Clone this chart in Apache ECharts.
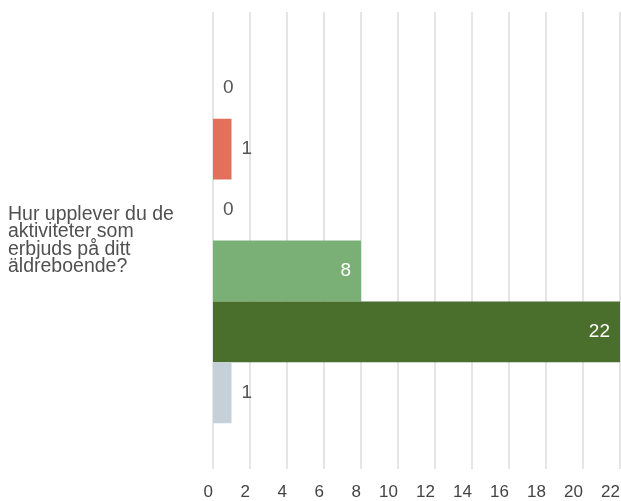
<!DOCTYPE html>
<html>
<head>
<meta charset="utf-8">
<script src="https://cdn.jsdelivr.net/npm/echarts@6/dist/echarts.min.js"></script>
<style>html,body{margin:0;padding:0;background:#fff}#c{width:621px;height:501px}</style>
</head>
<body>
<div id="c"></div>
<script>
const categories = ['Hur upplever du de aktiviteter som erbjuds på ditt äldreboende?'];
const seriesNames = ['Mycket dåligt', 'Dåligt', 'Varken bra eller dåligt', 'Bra', 'Mycket bra', 'Vet ej'];
const seriesValues = [[0], [1], [0], [8], [22], [1]];
const seriesColors = ['#b03a2e', '#e2705a', '#f0c05a', '#7aaf75', '#4a6e2c', '#c5d0d9'];
const xTicks = { min: 0, max: 22, interval: 2 };

const FONT = 'Liberation Sans, Arial, sans-serif';
const chart = echarts.init(document.getElementById('c'), null, { renderer: 'canvas' });
const series = seriesNames.map((name, i) => {
  const v = seriesValues[i][0];
  const big = v >= 5;
  return {
    name: name,
    type: 'bar',
    data: seriesValues[i],
    barGap: '0%',
    barCategoryGap: '20%',
    itemStyle: { color: seriesColors[i] },
    label: {
      show: true,
      position: big ? 'insideRight' : 'right',
      distance: 10,
      color: big ? '#ffffff' : '#555555',
      fontFamily: FONT,
      fontSize: 19
    }
  };
});
chart.setOption({
  animation: false,
  grid: { left: 213, right: 1, top: 12, bottom: 32, containLabel: false, outerBoundsMode: 'none' },
  xAxis: {
    type: 'value',
    min: xTicks.min, max: xTicks.max, interval: xTicks.interval,
    axisLine: { show: false },
    axisTick: { show: false },
    splitLine: { show: true, lineStyle: { color: '#dcdcdc', width: 1.5 } },
    axisLabel: { color: '#444444', fontSize: 17, margin: 15, align: 'right', hideOverlap: false, fontFamily: FONT }
  },
  yAxis: {
    type: 'category',
    data: categories,
    inverse: true,
    axisLine: { show: false },
    axisTick: { show: false },
    axisLabel: {
      align: 'left',
      margin: 205,
      width: 180,
      overflow: 'break',
      fontSize: 19.5,
      lineHeight: 17.5,
      padding: [0, 0, 18, 0],
      color: '#505050',
      fontFamily: FONT
    }
  },
  series: series
});
</script>
</body>
</html>
